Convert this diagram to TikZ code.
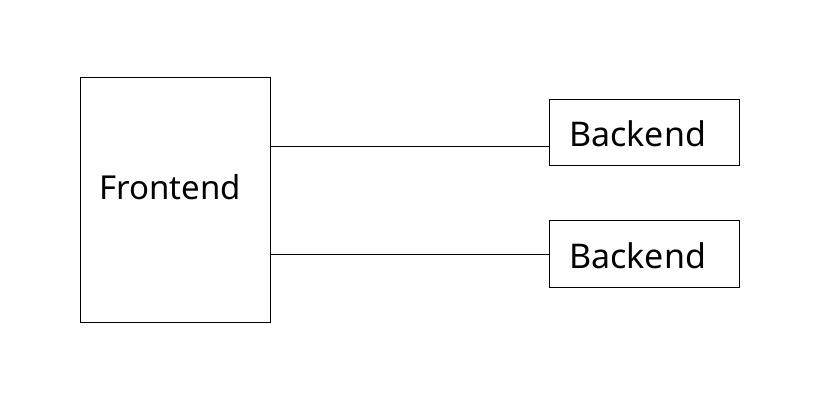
\documentclass[tikz,border=0pt]{standalone}
\usepackage{fontspec}
\setmainfont{Noto Sans}
\begin{document}
\begin{tikzpicture}[x=1pt,y=-1pt,
  box/.style={draw=black,line width=0.9pt,inner sep=0pt},
  lbl/.style={inner sep=0pt,font=\fontsize{33}{36}\selectfont,anchor=base west},
  blbl/.style={lbl,font=\fontsize{34}{37}\selectfont},
  wire/.style={draw=black,line width=0.9pt}]
\useasboundingbox (0,0) rectangle (820,400);
\path[box] (80,77) rectangle (270,322);
\node[lbl] (ft) at (99,199) {Frontend};
\coordinate (f1) at (270,146);
\coordinate (f2) at (270,254);
\node[box,minimum width=190pt,minimum height=66pt] (b1) at (644,132) {};
\node[blbl] (b1t) at (569,146) {Backend};
\node[box,minimum width=190pt,minimum height=67pt] (b2) at (644,253.5) {};
\node[blbl] (b2t) at (569,268) {Backend};
\draw[wire] (f1) -- (b1.west |- f1);
\draw[wire] (f2) -- (b2.west |- f2);
\end{tikzpicture}
\end{document}
